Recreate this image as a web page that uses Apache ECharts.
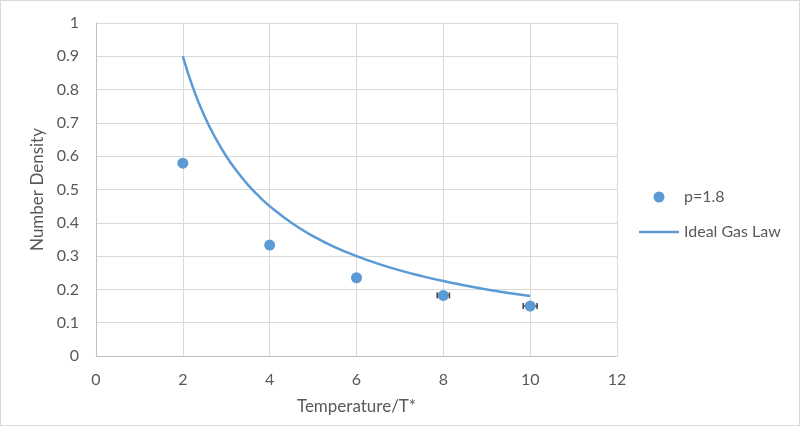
<!DOCTYPE html>
<html>
<head>
<meta charset="utf-8">
<script src="https://cdn.jsdelivr.net/npm/echarts@6/dist/echarts.min.js"></script>
<style>
html,body{margin:0;padding:0;background:#fff;}
#chart{width:800px;height:426px;box-sizing:border-box;border:1px solid #d9d9d9;}
</style>
</head>
<body>
<div id="chart"></div>
<script>
// measured points p=1.8
var tempPoints=[2,4,6,8,10];
var densPoints=[0.579,0.333,0.235,0.182,0.150];
// horizontal error (temperature)
var tempErr=[0,0,0,0.14,0.16];

// ideal gas law curve
var curveT=[2,2.25,2.5,2.75,3,3.25,3.5,3.75,4,4.5,5,5.5,6,6.5,7,7.5,8,8.5,9,9.5,10];
var curveD=[0.9,0.8,0.72,0.655,0.6,0.554,0.514,0.48,0.45,0.4,0.36,0.327,0.3,0.277,0.257,0.24,0.225,0.212,0.2,0.189,0.18];

var xTicks=[0,2,4,6,8,10,12];

var txt='#595959';
var font='Lato';

var scatterData=[],errData=[],lineData=[];
for(var i=0;i<tempPoints.length;i++){
	scatterData.push([tempPoints[i],densPoints[i]]);
	if(tempErr[i]>0){
		errData.push([tempPoints[i],densPoints[i],tempErr[i]]);
	}
}
for(var j=0;j<curveT.length;j++){
	lineData.push([curveT[j],curveD[j]]);
}

var chart=echarts.init(document.getElementById('chart'));
var option={
	animation:false,
	textStyle:{fontFamily:font,color:txt},
	grid:{left:95,right:182,top:22,bottom:69,containLabel:false},
	legend:{
		orient:'vertical',
		left:638,
		top:188,
		padding:0,
		itemWidth:40,
		itemHeight:11,
		itemGap:19,
		textStyle:{fontFamily:font,color:txt,fontSize:16},
		data:[
			{name:'p=1.8',icon:'circle'},
			{name:'Ideal Gas Law',icon:'path://M0,0L40,0L40,2.5L0,2.5Z'}
		]
	},
	xAxis:{
		type:'value',
		min:xTicks[0],
		max:xTicks[xTicks.length-1],
		interval:2,
		name:'Temperature/T*',
		nameLocation:'middle',
		nameGap:42,
		nameTextStyle:{fontFamily:font,color:txt,fontSize:17},
		axisLine:{show:true,lineStyle:{color:'#bfbfbf',width:1}},
		axisTick:{show:false},
		axisLabel:{color:txt,fontFamily:font,fontSize:16,margin:16},
		splitLine:{show:true,lineStyle:{color:'#d9d9d9',width:1}}
	},
	yAxis:{
		type:'value',
		min:0,
		max:1,
		interval:0.1,
		name:'Number Density',
		nameLocation:'middle',
		nameGap:44,
		nameTextStyle:{fontFamily:font,color:txt,fontSize:17},
		axisLine:{show:true,lineStyle:{color:'#bfbfbf',width:1}},
		axisTick:{show:false},
		axisLabel:{color:txt,fontFamily:font,fontSize:16,margin:17},
		splitLine:{show:true,lineStyle:{color:'#d9d9d9',width:1}}
	},
	series:[
		{
			name:'Ideal Gas Law',
			type:'line',
			data:lineData,
			smooth:true,
			showSymbol:false,
			symbol:'none',
			lineStyle:{color:'#5b9bd5',width:2.5},
			itemStyle:{color:'#5b9bd5'},
			z:2
		},
		{
			name:'err',
			type:'custom',
			data:errData,
			z:3,
			renderItem:function(params,api){
				var x=api.value(0),y=api.value(1),e=api.value(2);
				var a=api.coord([x-e,y]);
				var b=api.coord([x+e,y]);
				var c=3;
				var st={stroke:'#404040',lineWidth:1.5};
				return {type:'group',children:[
					{type:'line',shape:{x1:a[0],y1:a[1],x2:b[0],y2:b[1]},style:st},
					{type:'line',shape:{x1:a[0],y1:a[1]-c,x2:a[0],y2:a[1]+c},style:st},
					{type:'line',shape:{x1:b[0],y1:b[1]-c,x2:b[0],y2:b[1]+c},style:st}
				]};
			}
		},
		{
			name:'p=1.8',
			type:'scatter',
			data:scatterData,
			symbol:'circle',
			symbolSize:11,
			itemStyle:{color:'#5b9bd5',opacity:1},
			z:4
		}
	]
};
chart.setOption(option);
</script>
</body>
</html>
